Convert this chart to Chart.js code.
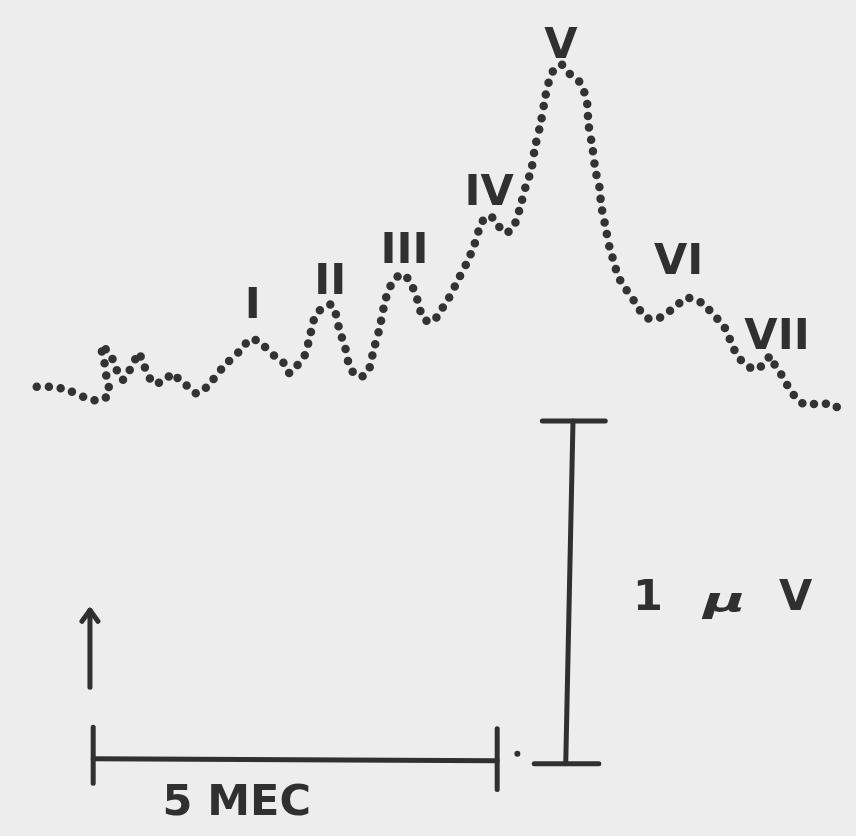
<!DOCTYPE html>
<html>
<head>
<meta charset="utf-8">
<script src="https://cdn.jsdelivr.net/npm/chart.js@4/dist/chart.umd.min.js"></script>
<style>
  html, body { margin:0; padding:0; background:#ededed; }
  canvas { display:block; }
</style>
</head>
<body>
<canvas id="abr" width="856" height="836"></canvas>
<script>
// waveform, latency in ms (0 = start of the 5 ms bar), amplitude in µV
const latencyMs = [-0.70,-0.52,-0.31,-0.11,0.07,0.20,0.17,0.14,0.10,0.22,
  0.29,0.36,0.43,0.52,0.57,0.61,0.68,0.74,0.90,0.98,
  1.07,1.18,1.29,1.41,1.62,1.84,1.95,2.06,2.25,2.36,
  2.43,2.52,2.62,2.67,2.71,2.76,2.85,2.95,3.00,3.05,
  3.13,3.18,3.28,3.40,3.48,3.55,3.61,3.66,3.73,3.83,
  3.92,3.98,4.04,4.09,4.21,4.30,4.39,4.52,4.63,4.72,
  4.82,4.91,5.00,5.09,5.20,5.25,5.29,5.37,5.43,5.48,
  5.55,5.61,5.65,5.70,5.81,5.92,6.03,6.09,6.13,6.14,
  6.19,6.23,6.28,6.30,6.35,6.41,6.45,6.50,6.56,6.62,
  6.71,6.79,6.88,7.01,7.14,7.25,7.35,7.49,7.59,7.68,
  7.78,7.86,7.91,7.99,8.07,8.21,8.33,8.40,8.46,8.55,
  8.62,8.71,8.81,8.92,9.05,9.18,9.29];
const amplitudeUv = [0.01,0.01,0.00,-0.02,-0.03,-0.01,0.03,0.08,0.13,0.10,
  0.06,0.03,0.05,0.09,0.11,0.08,0.05,0.02,0.03,0.05,
  0.03,0.01,-0.01,0.01,0.07,0.12,0.15,0.14,0.10,0.08,
  0.05,0.07,0.10,0.14,0.18,0.22,0.24,0.25,0.23,0.18,
  0.12,0.07,0.04,0.05,0.12,0.18,0.25,0.29,0.32,0.34,
  0.32,0.29,0.25,0.21,0.20,0.23,0.26,0.32,0.37,0.42,
  0.49,0.51,0.49,0.46,0.47,0.50,0.53,0.60,0.64,0.71,
  0.78,0.86,0.90,0.93,0.95,0.92,0.90,0.87,0.83,0.78,
  0.71,0.64,0.59,0.54,0.48,0.41,0.38,0.34,0.31,0.29,
  0.26,0.23,0.21,0.21,0.23,0.25,0.27,0.26,0.25,0.22,
  0.20,0.17,0.14,0.10,0.08,0.06,0.08,0.10,0.07,0.04,
  0.01,-0.02,-0.04,-0.04,-0.04,-0.04,-0.07];

// peak labels (anchor = baseline of the lettering)
const peakNames = ['I','II','III','IV','V','VI','VII'];
const peakLabelMs = [1.98, 2.94, 3.86, 4.91, 5.80, 7.26, 8.48];
const peakLabelUv = [0.21, 0.28, 0.37, 0.54, 0.97, 0.34, 0.12];

// calibration bars
const timeBarMs = [0, 5.01];
const timeBarUv = [-1.075, -1.081];
const timeTickLeftUv = [-0.983, -1.147];
const timeTickRightUv = [-0.988, -1.165];
const voltBarMs = [5.95, 5.86];
const voltBarUv = [-0.09, -1.09];
const voltCapTopMs = [5.57, 6.35];
const voltCapBottomMs = [5.47, 6.27];
const arrowMs = [-0.04, -0.04];
const arrowUv = [-0.867, -0.642];
const stimDot = { x: 5.26, y: -1.061 };

const captionText = ['5 MEC', '1', 'µ', 'V'];
const captionMs = [1.78, 6.88, 7.83, 8.71];
const captionUv = [-1.24, -0.64, -0.64, -0.64];

const INK = '#303030';
const pts = (xs, ys) => xs.map((x, i) => ({ x, y: ys[i] }));
const bar = (data) => ({ data, borderColor: INK, borderWidth: 5, borderCapStyle: 'round',
  pointRadius: 0, tension: 0, fill: false });

const paper = {
  id: 'paper',
  beforeDraw(chart) {
    const c = chart.ctx;
    c.save(); c.fillStyle = '#ededed'; c.fillRect(0, 0, chart.width, chart.height); c.restore();
  }
};

const lettering = {
  id: 'lettering',
  afterDatasetsDraw(chart) {
    const c = chart.ctx, sx = chart.scales.x, sy = chart.scales.y;
    c.save();
    c.fillStyle = INK;
    c.textAlign = 'center';
    c.textBaseline = 'alphabetic';
    c.font = 'bold 43px "DejaVu Sans"';
    peakNames.forEach((t, i) => {
      c.fillText(t, sx.getPixelForValue(peakLabelMs[i]), sy.getPixelForValue(peakLabelUv[i]));
    });
    captionText.forEach((t, i) => {
      const px = sx.getPixelForValue(captionMs[i]), py = sy.getPixelForValue(captionUv[i]);
      if (t === 'µ') {
        // the hand-lettered mu is wide and low
        c.save();
        c.translate(px, py + 2);
        c.scale(1.7, 1);
        c.font = 'bold italic 34px "DejaVu Sans"';
        c.fillText(t, 0, 0);
        c.restore();
      } else {
        c.fillText(t, px, py);
      }
    });
    // arrow head
    const ax = sx.getPixelForValue(arrowMs[1]), ay = sy.getPixelForValue(arrowUv[1]);
    c.strokeStyle = INK; c.lineWidth = 5; c.lineCap = 'round'; c.lineJoin = 'round';
    c.beginPath(); c.moveTo(ax - 8, ay + 11); c.lineTo(ax, ay); c.lineTo(ax + 8, ay + 11); c.stroke();
    c.restore();
  }
};

new Chart(document.getElementById('abr'), {
  type: 'line',
  data: {
    datasets: [
      { data: pts(latencyMs, amplitudeUv), borderColor: '#333333', borderWidth: 8.5,
        borderCapStyle: 'round', borderDash: [0, 12], pointRadius: 0, tension: 0.3, fill: false },
      bar(pts(timeBarMs, timeBarUv)),
      bar(pts([timeBarMs[0], timeBarMs[0]], timeTickLeftUv)),
      bar(pts([timeBarMs[1], timeBarMs[1]], timeTickRightUv)),
      bar(pts(voltBarMs, voltBarUv)),
      bar(pts(voltCapTopMs, [voltBarUv[0], voltBarUv[0]])),
      bar(pts(voltCapBottomMs, [voltBarUv[1], voltBarUv[1]])),
      bar(pts(arrowMs, arrowUv)),
      { data: [stimDot], type: 'scatter', pointRadius: 3, pointBackgroundColor: INK, borderWidth: 0 }
    ]
  },
  options: {
    responsive: false, animation: false,
    layout: { padding: 0 },
    plugins: { legend: { display: false }, tooltip: { enabled: false } },
    scales: {
      x: { type: 'linear', display: false, min: -1.106, max: 9.41 },
      y: { type: 'linear', display: false, min: -1.289, max: 1.127 }
    }
  },
  plugins: [paper, lettering]
});
</script>
</body>
</html>
